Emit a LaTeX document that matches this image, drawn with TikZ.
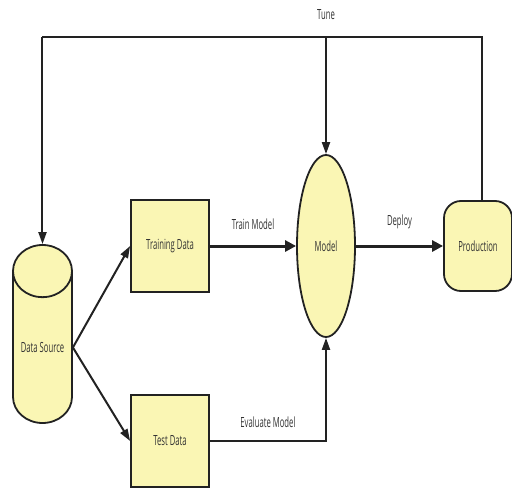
\documentclass[tikz,border=0pt]{standalone}
\usepackage{fontspec}
\setmainfont[FakeStretch=0.55]{Open Sans}
\usepackage{tikz}
\usetikzlibrary{positioning,arrows.meta,shapes.geometric,calc}
\definecolor{stage}{HTML}{FAF6B4}
\definecolor{edge}{HTML}{222222}
\definecolor{caption}{HTML}{333333}

\begin{document}
\begin{tikzpicture}[
  x=1pt, y=-1pt,
  every node/.style={font=\fontsize{14}{16}\selectfont, text=caption},
  databox/.style={
    draw=edge, fill=stage, line width=1.8pt,
    minimum width=78pt, minimum height=92pt, inner sep=0pt,
  },
  storebox/.style={
    cylinder, shape border rotate=90, aspect=1.2,
    draw=edge, fill=stage, line width=1.8pt,
    minimum width=59pt, minimum height=178pt, inner sep=0pt,
  },
  modelbox/.style={
    ellipse, draw=edge, fill=stage, line width=1.8pt,
    minimum width=58pt, minimum height=182pt, inner sep=0pt,
  },
  prodbox/.style={
    draw=edge, fill=stage, line width=1.8pt, rounded corners=17pt,
    minimum width=68pt, minimum height=90pt, inner sep=0pt,
  },
  flow/.style={-{Triangle[length=11pt,width=11pt]}, line width=3pt, draw=edge},
  link/.style={-{Triangle[length=12pt,width=8pt]}, line width=2pt, draw=edge},
  tag/.style={font=\fontsize{14}{16}\selectfont},
]
  \useasboundingbox (0,0) rectangle (512,490);

  \node[storebox, anchor=shape center] (src) at (42.5,334) {Data Source};
  \node[databox]  (train) at (170,246)  {Training Data};
  \node[databox]  (test)  at (170,441)  {Test Data};
  \node[modelbox] (model) at (326,246)  {Model};
  \node[prodbox]  (prod)  at (478,246)  {Production};

  % split the source into the two data sets
  \draw[link] (src.east) -- (train.west);
  \draw[link] (src.east) -- (test.west);

  % main pipeline
  \draw[flow] (train) -- node[tag, above=12pt] {Train Model} (model);
  \draw[flow] (model) -- node[tag, above=12pt] {Deploy} (prod);

  % evaluation goes back up into the model
  \draw[link] (test.east) -| node[tag, pos=0.25, above=9pt] {Evaluate Model} (model.south);

  % tuning loop across the top
  \coordinate (prodTop) at ($(prod.north)+(4,0)$);
  \coordinate (tuneR) at (prodTop |- 0,37);
  \coordinate (tuneL) at (src.north |- 0,37);
  \coordinate (tuneM) at (model.north |- 0,37);
  \draw[line width=2pt, draw=edge] (prodTop) -- (tuneR) -- (tuneL);
  \draw[link] (tuneL) -- (src.north);
  \draw[link] (tuneM) -- node[tag, pos=0, above=13pt] {Tune} (model.north);
\end{tikzpicture}
\end{document}
